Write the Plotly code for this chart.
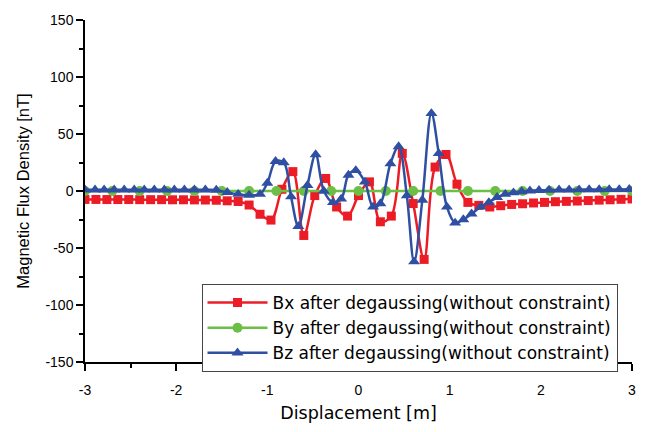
import plotly.graph_objects as go

# ---- data ----
bx_x = [-3.00, -2.88, -2.76, -2.64, -2.52, -2.40, -2.28, -2.16, -2.04, -1.92, -1.80, -1.68,
        -1.56, -1.44, -1.32, -1.20, -1.08, -0.96, -0.84, -0.72, -0.60, -0.48, -0.36, -0.24,
        -0.12, 0.00, 0.12, 0.24, 0.36, 0.48, 0.60, 0.72, 0.84, 0.96, 1.08, 1.20, 1.32, 1.44,
        1.56, 1.68, 1.80, 1.92, 2.04, 2.16, 2.28, 2.40, 2.52, 2.64, 2.76, 2.88, 3.00]
bx_y = [-7.4, -7.4, -7.5, -7.5, -7.5, -7.6, -7.6, -7.6, -7.7, -7.7, -7.8, -7.9,
        -8.1, -8.6, -9.2, -12.3, -20.4, -25.5, 1.5, 17.0, -39.0, -4.0, 11.0, -14.0,
        -22.0, -4.0, 8.0, -27.0, -22.0, 33.0, -11.0, -60.0, 21.0, 32.0, 6.0, -10.0, -12.6, -14.0,
        -12.9, -11.8, -11.2, -10.5, -10.0, -9.4, -9.1, -8.8, -8.4, -8.0, -7.7, -7.3, -7.0]

by_x = [-3.0, -2.7, -2.4, -2.1, -1.8, -1.5, -1.2, -0.9, -0.6, -0.3, 0.0,
        0.3, 0.6, 0.9, 1.2, 1.5, 1.8, 2.1, 2.4, 2.7, 3.0]
by_y = [0.0, 0.0, 0.0, 0.0, 0.0, 0.0, 0.0, 0.0, 0.0, 0.0, 0.0,
        0.0, 0.0, 0.0, 0.0, 0.0, 0.0, 0.0, 0.0, 0.0, 0.0]

bz_x = [-3.00, -2.89, -2.79, -2.68, -2.57, -2.46, -2.35, -2.24, -2.13, -2.02, -1.91, -1.80,
        -1.68, -1.56, -1.44, -1.32, -1.20, -1.08, -1.00, -0.91, -0.82, -0.74, -0.66, -0.56,
        -0.47, -0.38, -0.28, -0.19, -0.11, -0.03, 0.07, 0.16, 0.24, 0.35, 0.44, 0.53,
        0.61, 0.70, 0.80, 0.88, 0.97, 1.06, 1.15, 1.24, 1.34, 1.43, 1.52, 1.61,
        1.70, 1.79, 1.88, 1.98, 2.09, 2.20, 2.31, 2.42, 2.53, 2.64, 2.75, 2.86, 2.97]
bz_y = [1.0, 1.0, 1.0, 1.0, 1.0, 1.0, 1.0, 1.0, 1.0, 1.0, 1.0, 1.0,
        1.0, 0.8, -1.2, -2.8, -3.6, -2.8, 7.0, 26.0, 25.0, -5.0, -31.0, 5.0,
        32.0, 0.0, -10.0, -7.0, 14.0, 18.0, 8.0, -14.0, -11.0, 24.0, 39.0, -4.0,
        -62.0, -8.0, 68.0, 33.0, -14.0, -28.0, -25.0, -20.0, -14.0, -10.0, -5.5, -2.8,
        -1.5, -0.5, 0.2, 0.6, 0.8, 1.0, 1.1, 1.2, 1.3, 1.3, 1.4, 1.4, 1.5]

names = ["Bx after degaussing(without constraint)",
         "By after degaussing(without constraint)",
         "Bz after degaussing(without constraint)"]
x_ticks = [-3, -2, -1, 0, 1, 2, 3]
y_ticks = [-150, -100, -50, 0, 50, 100, 150]

RED, GREEN, BLUE = "#EC1C27", "#6CBF46", "#2F4FA2"
ARIAL = "Liberation Sans, Arial, sans-serif"
WIDE = "DejaVu Sans, sans-serif"

fig = go.Figure()
fig.add_trace(go.Scatter(x=bx_x, y=bx_y, name=names[0], mode="lines+markers",
                         line=dict(color=RED, width=2.5, shape="spline", smoothing=1),
                         marker=dict(symbol="square", size=9, color=RED)))
fig.add_trace(go.Scatter(x=by_x, y=by_y, name=names[1], mode="lines+markers",
                         line=dict(color=GREEN, width=2.5, shape="spline"),
                         marker=dict(symbol="circle", size=10, color=GREEN)))
fig.add_trace(go.Scatter(x=bz_x, y=bz_y, name=names[2], mode="lines+markers",
                         line=dict(color=BLUE, width=2.5, shape="spline", smoothing=1),
                         marker=dict(symbol="triangle-up", size=10.5, color=BLUE)))

axis_common = dict(showline=True, linecolor="black", linewidth=1.5, mirror=False,
                   ticks="outside", ticklen=7, tickwidth=1.5, tickcolor="black",
                   showgrid=False, zeroline=False,
                   tickfont=dict(family=ARIAL, size=14, color="black"))

fig.update_xaxes(range=[-3, 3], tickvals=x_ticks, ticktext=[str(v) for v in x_ticks],
                 ticklabelstandoff=7,
                 minor=dict(ticks="outside", ticklen=4, tickwidth=1.5, tickcolor="black", dtick=0.5),
                 title=dict(text="Displacement [m]", standoff=10,
                            font=dict(family=WIDE, size=17.5, color="black")),
                 **axis_common)
fig.update_yaxes(range=[-150, 150], tickvals=y_ticks, ticktext=[str(v) for v in y_ticks],
                 minor=dict(ticks="outside", ticklen=4, tickwidth=1.5, tickcolor="black", dtick=25),
                 title=dict(text="Magnetic Flux Density [nT]", standoff=12,
                            font=dict(family=ARIAL, size=16.5, color="black")),
                 **axis_common)

fig.update_layout(
    width=648, height=432,
    margin=dict(l=85, r=14, t=13, b=62),
    plot_bgcolor="white", paper_bgcolor="white",
    showlegend=True,
    legend=dict(x=0.213, y=0.228, xanchor="left", yanchor="top",
                bgcolor="white", bordercolor="#444", borderwidth=1,
                font=dict(family=WIDE, size=17, color="black"),
                tracegroupgap=0, itemwidth=60),
)

fig.write_html("out.html")
